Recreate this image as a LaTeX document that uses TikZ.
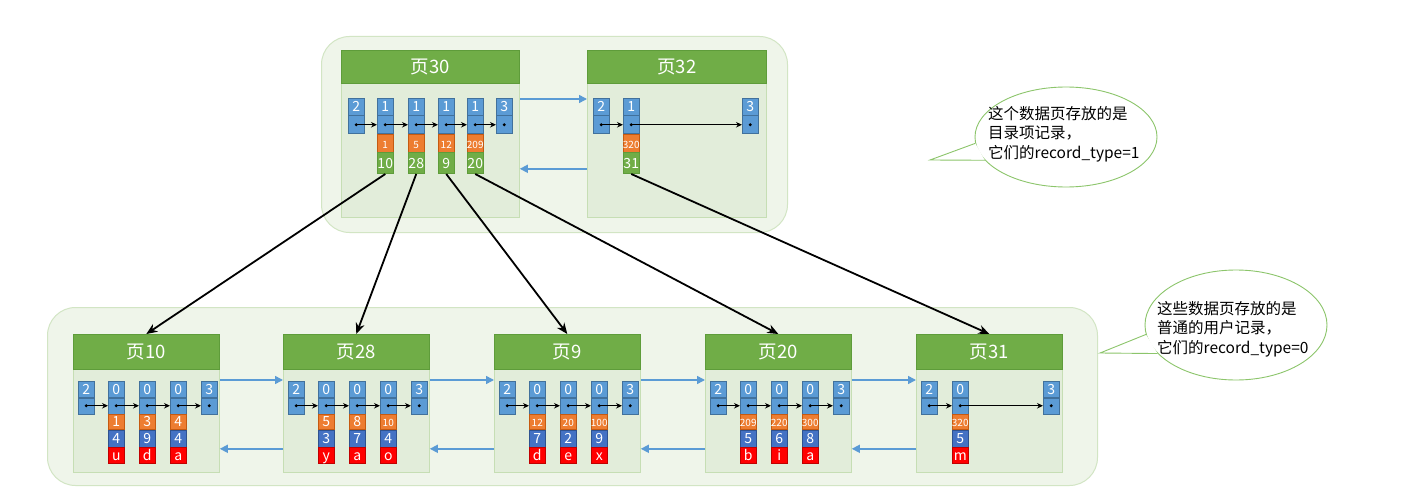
\documentclass[tikz,border=0pt]{standalone}
\usepackage{fontspec}
\setmainfont{Noto Sans CJK SC}
\usetikzlibrary{arrows.meta,shapes.geometric}
\definecolor{hdr}{HTML}{70AD47}
\definecolor{hdrline}{HTML}{5E9C3A}
\definecolor{rblue}{HTML}{5B9BD5}
\definecolor{rblueb}{HTML}{41719C}
\definecolor{dblue}{HTML}{4472C4}
\definecolor{dblueb}{HTML}{2F528F}
\definecolor{rorange}{HTML}{ED7D31}
\definecolor{rorangeb}{HTML}{C55A11}
\definecolor{rred}{HTML}{FF0000}
\definecolor{rredb}{HTML}{C00000}
\definecolor{bodyfill}{HTML}{E2EDDA}
\definecolor{bodyline}{HTML}{C6DEB4}
\definecolor{contfill}{HTML}{EFF5EA}
\definecolor{contline}{HTML}{D2E5C4}
\definecolor{callline}{HTML}{8CC56B}
\newcommand\smk{\fontsize{10}{10}\selectfont}
\newcommand\recHa{17pt}
\newcommand\recHb{18pt}
% name, x, y, type
\newcommand\rtop[4]{%
  \node[tcell, minimum height=\recHa, anchor=north west] (#1t) at (#2,#3) {#4};
  \node[tcell, minimum height=\recHb, anchor=north] (#1d) at (#1t.south) {};
  \fill (#1d.center) circle[radius=1.7pt];
}
% top-level record: name, x, key, child
\newcommand\rkid[4]{%
  \rtop{#1}{#2}{98}{1}
  \node[ocell, minimum height=18pt, anchor=north] (#1k) at (#1d.south) {\smk #3};
  \node[gcell, minimum height=21pt, anchor=north] (c#4) at (#1k.south) {#4};
}
% leaf record: name, x, key, val, char
\newcommand\brec[5]{%
  \rtop{#1}{#2}{381}{0}
  \node[ocell, minimum height=15pt, anchor=north] (#1k) at (#1d.south) {#3};
  \node[vcell, minimum height=17pt, anchor=north] (#1v) at (#1k.south) {#4};
  \node[rcell, minimum height=16pt, anchor=north] (#1c) at (#1v.south) {#5};
}
% page: id, x, y, width, header height, body height
\newcommand\page[6]{%
  \node[pbody, minimum width=#4pt, minimum height=#6pt, anchor=north west] (b#1) at (#2,#3+#5) {};
  \node[phdr, minimum width=#4pt, minimum height=#5pt, anchor=north west] (h#1) at (#2,#3) {页#1};
}
\begin{document}
\begin{tikzpicture}[x=1pt,y=-1pt,
  cont/.style={draw=contline, fill=contfill, line width=1pt, rounded corners=28pt, inner sep=0pt},
  pbody/.style={draw=bodyline, fill=bodyfill, line width=0.8pt, inner sep=0pt},
  phdr/.style={draw=hdrline, fill=hdr, line width=0.6pt, text=white, font=\fontsize{18.5}{18.5}\selectfont, inner sep=0pt},
  cell/.style={line width=0.5pt, minimum width=16pt, inner sep=0pt, text=white, text height=10pt, text depth=0pt, font=\fontsize{14}{14}\selectfont},
  tcell/.style={cell, draw=rblueb, fill=rblue},
  ocell/.style={cell, draw=rorangeb, fill=rorange},
  gcell/.style={cell, draw=hdrline, fill=hdr},
  vcell/.style={cell, draw=dblueb, fill=dblue},
  rcell/.style={cell, draw=rredb, fill=rred},
  link/.style={-{Stealth[length=6pt,width=5.5pt]}, line width=0.9pt},
  parr/.style={-{Triangle[length=8pt,width=8pt]}, draw=rblue, line width=1.6pt},
  carr/.style={-{Stealth[length=11pt,width=9pt]}, line width=1.8pt},
  callout/.style={ellipse, draw=callline, fill=white, line width=0.9pt, inner sep=0pt},
  ctext/.style={align=left, anchor=west, inner sep=0pt, font=\fontsize{15.5}{19.5}\selectfont}
]
\useasboundingbox (0,0) rectangle (1401,500);
\fill[white] (0,0) rectangle (1401,500);

% containers
\node[cont, minimum width=466pt, minimum height=196pt, anchor=north west] (ctop) at (321,36) {};
\node[cont, minimum width=1050pt, minimum height=178pt, anchor=north west] (cbot) at (47,307) {};

% top pages
\page{30}{341}{50}{178}{33}{134}
\page{32}{587}{50}{179}{33}{134}

% page 30 records
\rtop{a0}{348}{98}{2}
\rkid{a1}{377}{1}{10}
\rkid{a2}{408}{5}{28}
\rkid{a3}{438}{12}{9}
\rkid{a4}{467}{209}{20}
\rtop{a5}{496}{98}{3}
\draw[link] (a0d.center) -- (a1d.west);
\draw[link] (a1d.center) -- (a2d.west);
\draw[link] (a2d.center) -- (a3d.west);
\draw[link] (a3d.center) -- (a4d.west);
\draw[link] (a4d.center) -- (a5d.west);

% page 32 records
\rtop{d0}{593}{98}{2}
\rkid{d1}{623}{320}{31}
\rtop{d2}{742}{98}{3}
\draw[link] (d0d.center) -- (d1d.west);
\draw[link] (d1d.center) -- (d2d.west);

\draw[parr] ([yshift=-16pt]b30.north east) -- ([yshift=-16pt]b32.north west);
\draw[parr] ([yshift=49pt]b32.south west) -- ([yshift=49pt]b30.south east);

% leaf pages
\renewcommand\recHa{16pt}
\renewcommand\recHb{16pt}
\page{10}{73}{334}{146}{35}{103}
\page{28}{283}{334}{146}{35}{103}
\page{9}{494}{334}{146}{35}{103}
\page{20}{705}{334}{146}{35}{103}
\page{31}{916}{334}{146}{35}{103}

% page 10
\rtop{e0}{78}{381}{2}
\brec{e1}{108}{1}{4}{u}
\brec{e2}{139}{3}{9}{d}
\brec{e3}{170}{4}{4}{a}
\rtop{e4}{201}{381}{3}
% page 28
\rtop{f0}{288}{381}{2}
\brec{f1}{318}{5}{3}{y}
\brec{f2}{349}{8}{7}{a}
\brec{f3}{380}{\smk 10}{4}{o}
\rtop{f4}{411}{381}{3}
% page 9
\rtop{g0}{499}{381}{2}
\brec{g1}{529}{\smk 12}{7}{d}
\brec{g2}{560}{\smk 20}{2}{e}
\brec{g3}{591}{\smk 100}{9}{x}
\rtop{g4}{622}{381}{3}
% page 20
\rtop{k0}{710}{381}{2}
\brec{k1}{740}{\smk 209}{5}{b}
\brec{k2}{771}{\smk 220}{6}{i}
\brec{k3}{802}{\smk 300}{8}{a}
\rtop{k4}{833}{381}{3}
% page 31
\rtop{m0}{921}{381}{2}
\brec{m1}{952}{\smk 320}{5}{m}
\rtop{m2}{1043}{381}{3}

\foreach \p in {e,f,g,k}{
  \draw[link] (\p0d.center) -- (\p1d.west);
  \draw[link] (\p1d.center) -- (\p2d.west);
  \draw[link] (\p2d.center) -- (\p3d.west);
  \draw[link] (\p3d.center) -- (\p4d.west);
}
\draw[link] (m0d.center) -- (m1d.west);
\draw[link] (m1d.center) -- (m2d.west);

% sibling arrows
\foreach \a/\b in {10/28,28/9,9/20,20/31}{
  \draw[parr] ([yshift=-11pt]b\a.north east) -- ([yshift=-11pt]b\b.north west);
  \draw[parr] ([yshift=24pt]b\b.south west) -- ([yshift=24pt]b\a.south east);
}

% child pointers
\draw[carr] (c10.south) -- (h10.north);
\draw[carr] (c28.south) -- (h28.north);
\draw[carr] (c9.south) -- (h9.north);
\draw[carr] (c20.south) -- (h20.north);
\draw[carr] (c31.south) -- (h31.north);

% callouts
\node[callout, minimum width=182pt, minimum height=100pt] (e1o) at (1066,137) {};
\coordinate (tip1) at (930,160);
\fill[white] (tip1) -- (e1o.184) -- (e1o.196) -- cycle;
\draw[callline, line width=0.9pt] (e1o.184) -- (tip1) -- (e1o.196);
\node[ctext] (t1) at (988,134) {这个数据页存放的是\\目录项记录，\\它们的record\_type=1};

\node[callout, minimum width=182pt, minimum height=110pt] (e2o) at (1236,325) {};
\coordinate (tip2) at (1100,353);
\fill[white] (tip2) -- (e2o.186) -- (e2o.200) -- cycle;
\draw[callline, line width=0.9pt] (e2o.186) -- (tip2) -- (e2o.200);
\node[ctext] (t2) at (1157,329) {这些数据页存放的是\\普通的用户记录，\\它们的record\_type=0};
\end{tikzpicture}
\end{document}
